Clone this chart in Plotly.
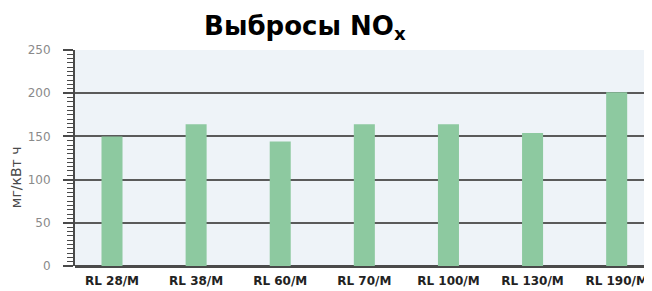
import plotly.graph_objects as go

categories = ["RL 28/M", "RL 38/M", "RL 60/M", "RL 70/M", "RL 100/M", "RL 130/M", "RL 190/M"]
values = [150, 164, 144, 164, 164, 154, 201]
y_ticks = [0, 50, 100, 150, 200, 250]

fig = go.Figure()
fig.add_trace(go.Bar(
    x=list(range(len(categories))), y=values,
    marker=dict(color="#8dc9a0", line=dict(width=0)),
    width=0.25,
))

# page body has an 8px default margin, so the figure is sized to fill the window
fig.update_layout(
    width=644, height=283,
    margin=dict(l=67, r=0, t=42, b=25, autoexpand=False),
    paper_bgcolor="white",
    plot_bgcolor="#eef3f8",
    showlegend=False,
    title=dict(
        text="<b>Выбросы NO<sub>x</sub></b>",
        x=0.461, xanchor="center", y=0.938, yanchor="middle",
        font=dict(family="DejaVu Sans", size=26, color="black"),
    ),
    font=dict(family="DejaVu Sans"),
)

fig.update_xaxes(
    range=[-0.44, 6.42],
    tickvals=list(range(len(categories))),
    ticktext=["<b>%s</b>" % c for c in categories],
    tickfont=dict(family="DejaVu Sans", size=12, color="#222222"),
    showgrid=False, zeroline=False, automargin=False,
    showline=False, ticks="", ticklabelstandoff=6,
)

fig.update_yaxes(
    range=[0, 250],
    tickvals=y_ticks,
    tickfont=dict(family="DejaVu Sans", size=12, color="#8a8a8a"),
    showgrid=True, gridcolor="#5a5a5a", gridwidth=2,
    zeroline=True, zerolinecolor="#4a4a4a", zerolinewidth=3,
    showline=True, linecolor="#4a4a4a", linewidth=2,
    ticks="outside", ticklen=10, tickwidth=2, tickcolor="#4a4a4a",
    ticklabelstandoff=10, automargin=False,
    minor=dict(dtick=5, ticks="outside", ticklen=6, tickwidth=1, tickcolor="#4a4a4a", showgrid=False),
)

fig.add_annotation(
    text="мг/кВт ч", textangle=-90,
    xref="paper", yref="paper", x=-0.102, y=0.412,
    xanchor="center", yanchor="middle", showarrow=False,
    font=dict(family="DejaVu Sans", size=14, color="#4a4a4a"),
)

fig.write_html("out.html")
